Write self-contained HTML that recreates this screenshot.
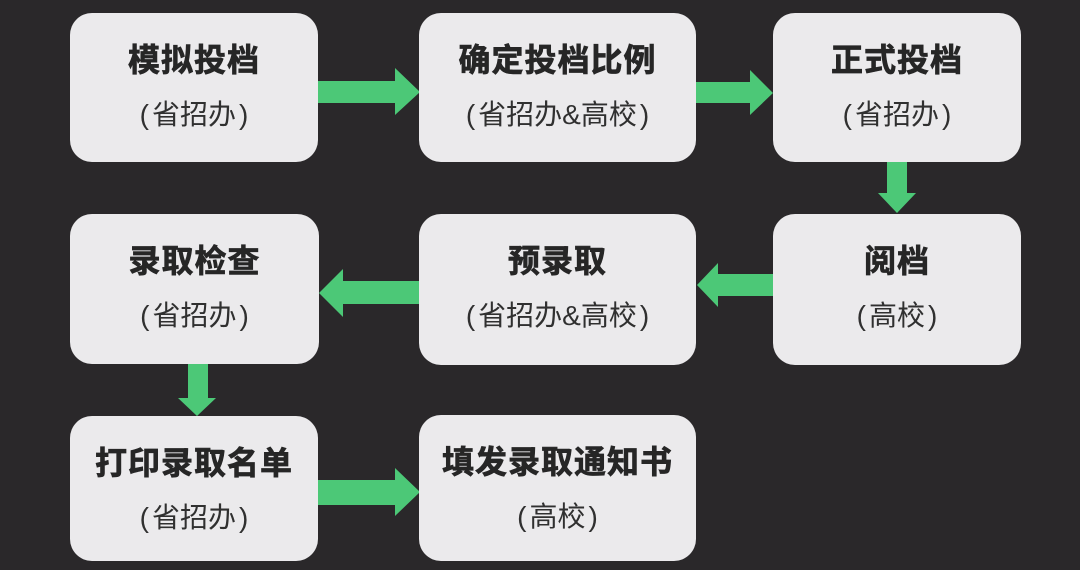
<!DOCTYPE html>
<html><head><meta charset="utf-8">
<style>
html,body{margin:0;padding:0;}
body{width:1080px;height:570px;background:#2a282a;position:relative;overflow:hidden;font-family:"Liberation Sans","Noto Sans CJK SC",sans-serif;}
.box{position:absolute;background:#ebeaec;border-radius:22px;}
.t{position:absolute;left:0;right:0;top:29px;text-align:center;font-size:32px;line-height:32px;font-weight:700;color:#262626;letter-spacing:1px;font-family:"Noto Sans CJK SC",sans-serif;-webkit-text-stroke:0.7px #262626;}
.s{position:absolute;left:0;right:0;top:88px;text-align:center;font-size:28px;line-height:28px;color:#303030;letter-spacing:0px;font-family:"Liberation Sans","Noto Sans CJK SC",sans-serif;}
.p{display:inline-block;margin:0 3px;}
svg{position:absolute;left:0;top:0;}
</style></head><body>
<svg width="1080" height="570">
<g fill="#4cc877">
<polygon points="318,81 395,81 395,68 420,92 395,115 395,103 318,103"/>
<polygon points="696,82 750,82 750,70 773,93 750,115 750,103 696,103"/>
<polygon points="887,162 907,162 907,193 916,193 897,213 878,193 887,193"/>
<polygon points="773,274 718,274 718,263 697,285 718,307 718,296 773,296"/>
<polygon points="419,281 343,281 343,269 319,293 343,317 343,304 419,304"/>
<polygon points="188,364 208,364 208,398 216,398 197,416 178,398 188,398"/>
<polygon points="318,480 395,480 395,468 420,492 395,516 395,505 318,505"/>
</g>
</svg>

<div class="box" style="left:70px;top:13px;width:248px;height:149px;">
<div class="t">模拟投档</div><div class="s"><span class="p">(</span>省招办<span class="p">)</span></div></div>

<div class="box" style="left:419px;top:13px;width:277px;height:149px;">
<div class="t">确定投档比例</div><div class="s"><span class="p">(</span>省招办&amp;高校<span class="p">)</span></div></div>

<div class="box" style="left:773px;top:13px;width:248px;height:149px;">
<div class="t">正式投档</div><div class="s"><span class="p">(</span>省招办<span class="p">)</span></div></div>

<div class="box" style="left:70px;top:214px;width:249px;height:150px;">
<div class="t">录取检查</div><div class="s"><span class="p">(</span>省招办<span class="p">)</span></div></div>

<div class="box" style="left:419px;top:214px;width:277px;height:151px;">
<div class="t">预录取</div><div class="s"><span class="p">(</span>省招办&amp;高校<span class="p">)</span></div></div>

<div class="box" style="left:773px;top:214px;width:248px;height:151px;">
<div class="t">阅档</div><div class="s"><span class="p">(</span>高校<span class="p">)</span></div></div>

<div class="box" style="left:70px;top:416px;width:248px;height:145px;">
<div class="t">打印录取名单</div><div class="s"><span class="p">(</span>省招办<span class="p">)</span></div></div>

<div class="box" style="left:419px;top:415px;width:277px;height:146px;">
<div class="t">填发录取通知书</div><div class="s"><span class="p">(</span>高校<span class="p">)</span></div></div>
</body></html>
